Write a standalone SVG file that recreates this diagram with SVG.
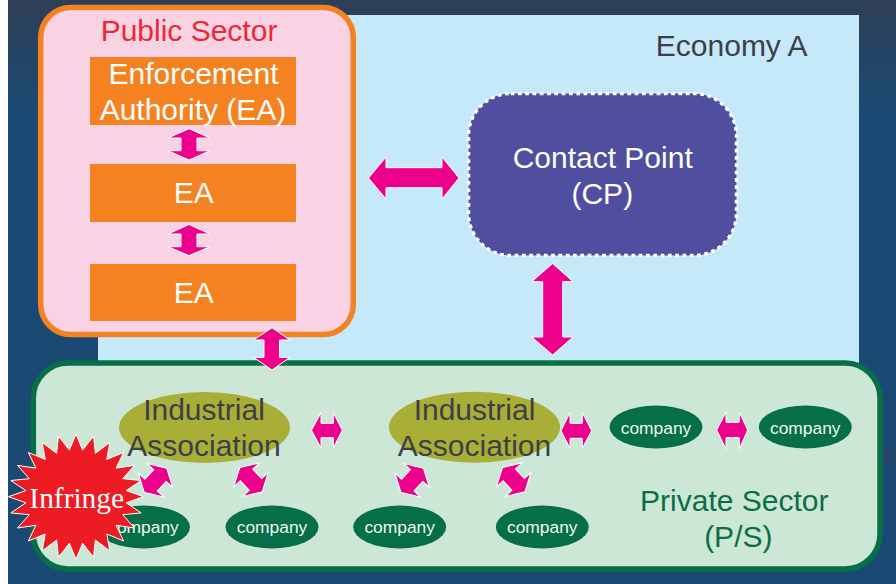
<svg xmlns="http://www.w3.org/2000/svg" width="896" height="584" viewBox="0 0 896 584">
<defs>
<linearGradient id="bg" x1="0" y1="0" x2="0" y2="1">
<stop offset="0" stop-color="#2f3f55"/>
<stop offset="0.19" stop-color="#1a4a73"/>
<stop offset="1" stop-color="#1a4a73"/>
</linearGradient>
<polygon id="diag" points="-16.5,0 -6.5,-17.5 -6.5,-8.5 6.5,-8.5 6.5,-17.5 16.5,0 6.5,17.5 6.5,8.5 -6.5,8.5 -6.5,17.5"/>
</defs>
<style>
text{font-family:"Liberation Sans",Arial,sans-serif;font-size:30px;text-anchor:middle}
.ea{fill:#f58220}
.w{fill:#fff}
.d{fill:#3c3f48}
.g{fill:#0a6f47}
.ia{fill:#a8ae36}
.co{fill:#076f47}
.cot{font-size:17.4px;fill:#eef7f1}
.arr polygon,.arr use{fill:#ec008c;stroke:#fff;stroke-width:1}
</style>
<rect width="896" height="584" fill="#fff"/>
<rect x="8" width="888" height="584" fill="url(#bg)"/>
<polygon points="882,448 896,444 896,463 882,465" fill="#24466b"/>
<g id="economy-a">
<rect x="98" y="15" width="761" height="350" fill="#c6e9fa"/>
<text class="d" x="731.7" y="56">Economy A</text>
</g>
<g id="public-sector">
<rect x="40.7" y="7.5" width="312.6" height="327" rx="30" fill="#f9d3e3" stroke="#f58220" stroke-width="5.5"/>
<text x="189" y="41" fill="#ee2737">Public Sector</text>
</g>
<g id="ea-1">
<rect class="ea" x="90" y="57" width="206" height="68"/>
<text class="w" x="193.5" y="84">Enforcement</text>
<text class="w" x="193" y="120">Authority (EA)</text>
</g>
<g id="ea-2">
<rect class="ea" x="90" y="164" width="206" height="58"/>
<text class="w" x="193.7" y="203">EA</text>
</g>
<g id="ea-3">
<rect class="ea" x="90" y="264" width="206" height="57"/>
<text class="w" x="193.7" y="303">EA</text>
</g>
<g id="contact-point">
<rect x="468.6" y="93.6" width="267.8" height="161.8" rx="42" fill="#504e9f" stroke="#fff" stroke-width="3.3" stroke-dasharray="3.7 3.6"/>
<text class="w" x="602.7" y="168">Contact Point</text>
<text class="w" x="602.3" y="204">(CP)</text>
</g>
<g id="private-sector">
<rect x="33.3" y="363" width="846.7" height="206" rx="35" fill="#cde7d6" stroke="#076f47" stroke-width="5.5"/>
<text class="g" x="734.3" y="511">Private Sector</text>
<text class="g" x="738.3" y="547">(P/S)</text>
</g>
<g id="ia-1">
<ellipse class="ia" cx="204.5" cy="427.5" rx="85.5" ry="35.5"/>
<text class="d" x="204" y="420">Industrial</text>
<text class="d" x="204" y="456">Association</text>
</g>
<g id="ia-2">
<ellipse class="ia" cx="474.5" cy="427.2" rx="85.5" ry="35.5"/>
<text class="d" x="474.5" y="420">Industrial</text>
<text class="d" x="474.5" y="456">Association</text>
</g>
<g id="company-1"><ellipse class="co" cx="143.5" cy="527" rx="46.5" ry="21.5"/><text class="cot" x="143.5" y="533">company</text></g>
<g id="company-2"><ellipse class="co" cx="272" cy="527" rx="46.5" ry="21.5"/><text class="cot" x="272" y="533">company</text></g>
<g id="company-3"><ellipse class="co" cx="399.7" cy="527" rx="46.5" ry="21.5"/><text class="cot" x="399.7" y="533">company</text></g>
<g id="company-4"><ellipse class="co" cx="542.3" cy="527" rx="46.5" ry="21.5"/><text class="cot" x="542.3" y="533">company</text></g>
<g id="company-5"><ellipse class="co" cx="656" cy="427" rx="46.5" ry="21.5"/><text class="cot" x="656" y="434">company</text></g>
<g id="company-6"><ellipse class="co" cx="805.3" cy="427" rx="46.5" ry="21.5"/><text class="cot" x="805.3" y="434">company</text></g>
<g id="connectors" class="arr">
<polygon points="189,128.7 210,138 197,138 197,150.7 210,150.7 189,160 168,150.7 181,150.7 181,138 168,138"/>
<polygon points="189,224.5 210,234 197,234 197,246.7 210,246.7 189,255.6 168,246.7 181,246.7 181,234 168,234"/>
<polygon points="272,327.7 290,340 279.5,340 279.5,357.3 290,357.3 272,370 253.5,357.3 264,357.3 264,340 253.5,340"/>
<polygon points="368.5,178 386,157 386,167.7 442,167.7 442,157 459,178 442,199 442,187.7 386,187.7 386,199"/>
<polygon points="552.7,263.5 573,281.7 562.7,281.7 562.7,337 573,337 552.7,355 531.7,337 542.7,337 542.7,281.7 531.7,281.7"/>
<polygon points="311.5,430.3 321,412.7 321,423.3 333.3,423.3 333.3,412.7 342.3,430.3 333.3,448 333.3,437.7 321,437.7 321,448"/>
<polygon points="561,430.7 570,412.7 570,423.3 582.3,423.3 582.3,412.7 591.7,430.7 582.3,448.3 582.3,438.3 570,438.3 570,448.3"/>
<polygon points="716.7,430 726,412.3 726,422.3 739.3,422.3 739.3,412.3 747.7,430 739.3,449 739.3,437.7 726,437.7 726,449"/>
<use href="#diag" transform="translate(155.5,480.3) rotate(-47)"/>
<use href="#diag" transform="translate(251,479.7) rotate(47)"/>
<use href="#diag" transform="translate(412.2,480.3) rotate(-47)"/>
<use href="#diag" transform="translate(513.7,479.7) rotate(47)"/>
</g>
<g id="infringe">
<polygon transform="translate(76,496.7)" fill="#ed1c24" stroke="#fff" stroke-width="1" points="67.5,0 50.2,6.1 65.2,16.2 46.7,18 58.5,31.3 40.1,28.6 47.7,44.3 30.8,37.3 33.8,54.2 19.4,43.4 17.5,60.5 6.6,46.6 0,62.6 -6.6,46.6 -17.5,60.5 -19.4,43.4 -33.8,54.2 -30.8,37.3 -47.7,44.3 -40.1,28.6 -58.5,31.3 -46.7,18 -65.2,16.2 -50.2,6.1 -67.5,0 -50.2,-6.1 -65.2,-16.2 -46.7,-18 -58.5,-31.3 -40.1,-28.6 -47.7,-44.3 -30.8,-37.3 -33.8,-54.2 -19.4,-43.4 -17.5,-60.5 -6.6,-46.6 0,-62.6 6.6,-46.6 17.5,-60.5 19.4,-43.4 33.8,-54.2 30.8,-37.3 47.7,-44.3 40.1,-28.6 58.5,-31.3 46.7,-18 65.2,-16.2 50.2,-6.1"/>
<text x="76.7" y="507.7" fill="#fff" style="font-family:'Liberation Serif','Times New Roman',serif;font-size:29.4px">Infringe</text>
</g>
</svg>
